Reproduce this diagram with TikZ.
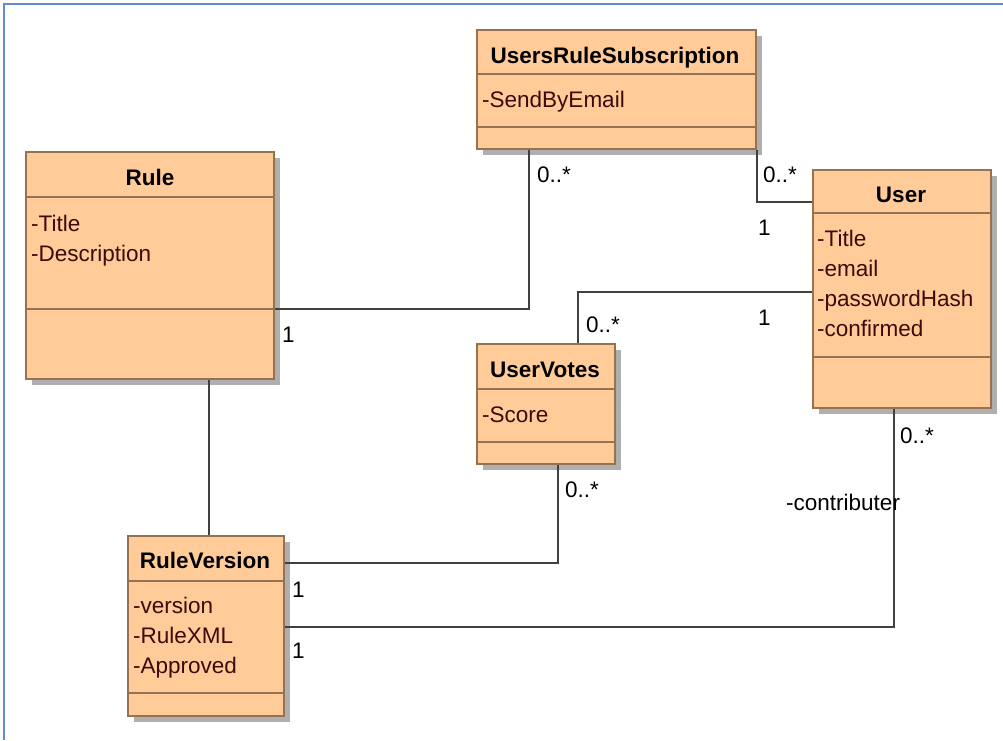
\documentclass[tikz,border=0pt]{standalone}
\usepackage{fontspec}
\setmainfont{Liberation Sans}
\definecolor{classfill}{RGB}{255,204,153}
\definecolor{classdraw}{RGB}{150,115,80}
\definecolor{shadowc}{RGB}{175,175,175}
\definecolor{linec}{RGB}{64,64,64}
\definecolor{attrc}{RGB}{60,10,10}
\definecolor{framec}{RGB}{95,140,210}
\tikzset{
  clsbox/.style={draw=classdraw, fill=classfill, line width=1.5pt, inner sep=0pt, rectangle},
  clssep/.style={draw=classdraw, line width=1.5pt},
  clstitle/.style={font=\fontsize{22.5}{26}\selectfont\bfseries, text=black, anchor=base, inner sep=0pt},
  attr/.style={font=\fontsize{22.5}{26}\selectfont, text=attrc, anchor=base west, inner sep=0pt},
  mult/.style={font=\fontsize{22.5}{26}\selectfont, text=black, anchor=base west, inner sep=0pt},
  assoc/.style={draw=linec, line width=1.6pt},
  shadowbox/.style={fill=shadowc},
  framebox/.style={draw=framec, line width=1.5pt}
}
\newcommand\umlclass[7]{%
  \fill[shadowbox] (#2+6,#3+6) rectangle (#4+6,#5+6);
  \node[clsbox, minimum width={(#4-#2)*1pt}, minimum height={(#5-#3)*1pt}] (#1) at ({(#2+#4)/2},{(#3+#5)/2}) {};
  \draw[clssep] (#1.west |- 0,#6) -- (#1.east |- 0,#6);
  \draw[clssep] (#1.west |- 0,#7) -- (#1.east |- 0,#7);
}
\begin{document}
\begin{tikzpicture}[x=1pt,y=-1pt]
\useasboundingbox (0,0) rectangle (1003,740);
\fill[white] (0,0) rectangle (1003,740);
\draw[framebox] (4,740) -- (4,4) -- (1003,4);

% classes
\umlclass{rule}{26}{152}{274}{379}{197}{309}
\node[clstitle] (rule-t) at (150,185) {Rule};
\node[attr] (rule-a1) at (31,231) {-Title};
\node[attr] (rule-a2) at (31,261) {-Description};

\umlclass{urs}{477}{30}{756}{149}{74}{127}
\node[clstitle] (urs-t) at (615,63) {UsersRuleSubscription};
\node[attr] (urs-a1) at (482,107) {-SendByEmail};

\umlclass{user}{813}{170}{991}{408}{213}{357}
\node[clstitle] (user-t) at (901,202) {User};
\node[attr] (user-a1) at (817,246) {-Title};
\node[attr] (user-a2) at (817,276) {-email};
\node[attr] (user-a3) at (817,306) {-passwordHash};
\node[attr] (user-a4) at (817,336) {-confirmed};

\umlclass{uv}{477}{344}{615}{464}{389}{442}
\node[clstitle] (uv-t) at (545,377) {UserVotes};
\node[attr] (uv-a1) at (482,422) {-Score};

\umlclass{rv}{128}{536}{284}{716}{581}{693}
\node[clstitle] (rv-t) at (205,568) {RuleVersion};
\node[attr] (rv-a1) at (133,613) {-version};
\node[attr] (rv-a2) at (133,643) {-RuleXML};
\node[attr] (rv-a3) at (133,673) {-Approved};

% associations
\draw[assoc] ([yshift=-43.5pt]rule.east) -| ([xshift=-87.5pt]urs.south);
\draw[assoc] (urs.south east) |- ([yshift=87pt]user.west);
\draw[assoc] ([yshift=-3pt]user.west) -| ([xshift=32pt]uv.north);
\draw[assoc] ([xshift=59pt]rule.south) -- ([xshift=59pt]rule.south |- rv.north);
\draw[assoc] ([xshift=12pt]uv.south) |- ([yshift=63pt]rv.east);
\draw[assoc] ([xshift=-8pt]user.south) |- ([yshift=-1pt]rv.east);

% multiplicities and roles
\node[mult] (m1) at (282,342) {1};
\node[mult] (m2) at (537,182) {0..*};
\node[mult] (m3) at (763,182) {0..*};
\node[mult] (m4) at (758,235) {1};
\node[mult] (m5) at (758,325) {1};
\node[mult] (m6) at (586,332) {0..*};
\node[mult] (m7) at (565,497) {0..*};
\node[mult] (m8) at (292,597) {1};
\node[mult] (m9) at (292,658) {1};
\node[mult] (m10) at (900,443) {0..*};
\node[mult] (role) at (786,510) {-contributer};
\end{tikzpicture}
\end{document}
